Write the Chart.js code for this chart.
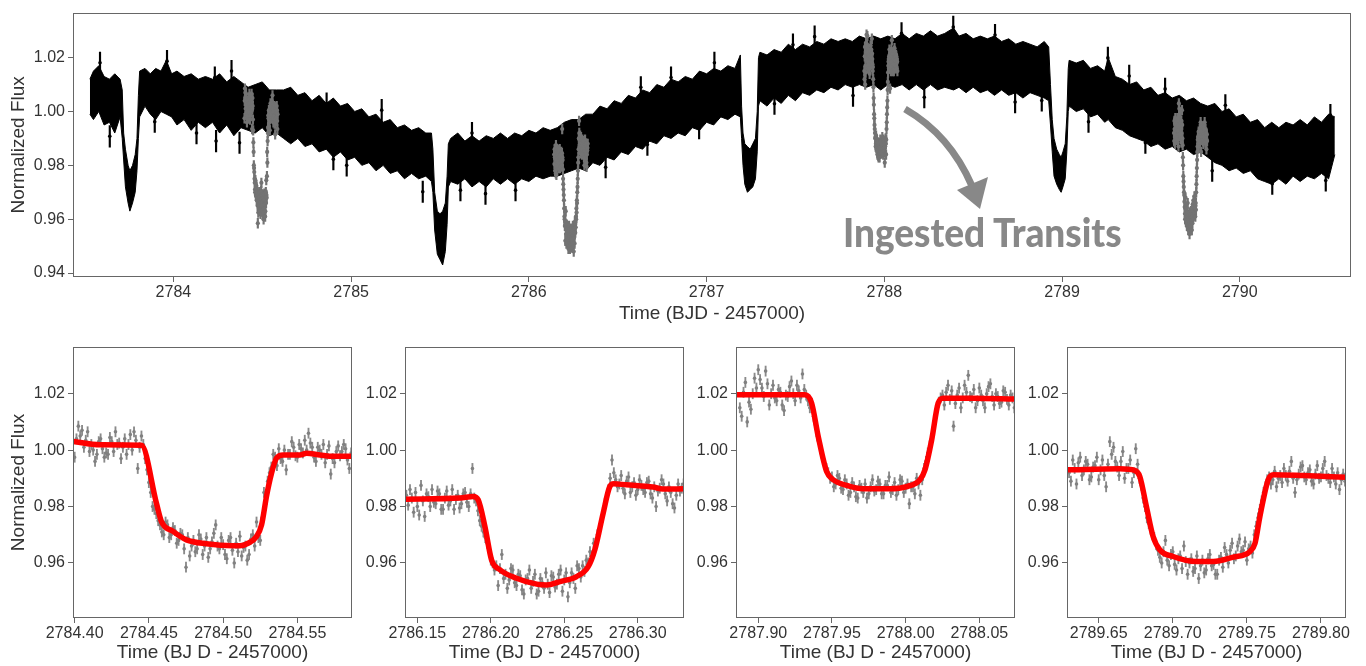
<!DOCTYPE html>
<html>
<head>
<meta charset="utf-8">
<script src="https://cdn.jsdelivr.net/npm/chart.js@4.4.1/dist/chart.umd.min.js"></script>
<style>
  html, body { margin: 0; padding: 0; background: #fff; }
  #stage { position: relative; width: 1366px; height: 666px; overflow: hidden; }
  canvas { position: absolute; }
  #arrow { position: absolute; left: 0; top: 0; }
  #label { position: absolute; left: 843px; top: 213px; font: 900 39px Lato, sans-serif; color: #888;
           line-height: 1; white-space: nowrap; transform-origin: left top; }
</style>
</head>
<body>
<div id="stage">
  <canvas id="top" width="1366" height="330" style="left:0;top:0"></canvas>
  <canvas id="p1" width="372" height="336" style="left:0;top:330px"></canvas>
  <canvas id="p2" width="359" height="336" style="left:345px;top:330px"></canvas>
  <canvas id="p3" width="359" height="336" style="left:676px;top:330px"></canvas>
  <canvas id="p4" width="359" height="336" style="left:1007px;top:330px"></canvas>
  <svg id="arrow" width="1366" height="330">
    <path d="M 905 109 Q 950 135 972 186" stroke="#888" stroke-width="7" fill="none"/>
    <polygon points="957,190 988,177 980,209" fill="#888"/>
  </svg>
  <div id="label">Ingested Transits</div>
</div>
<script>
// ---- full light curve: upper / lower edge of the black band ----
const bandTime = [
  2783.53, 2783.55, 2783.58, 2783.61, 2783.64, 2783.67, 2783.70, 2783.712,
  2783.72, 2783.73, 2783.745, 2783.755, 2783.77, 2783.785, 2783.795, 2783.803,
  2783.81, 2783.84, 2783.87, 2783.90, 2783.93, 2783.96, 2783.99, 2784.02, 2784.06, 2784.10, 2784.14,
  2784.18, 2784.22, 2784.26, 2784.30, 2784.34, 2784.38, 2784.42, 2784.46, 2784.50, 2784.54, 2784.58,
  2784.62, 2784.66, 2784.70, 2784.74, 2784.78, 2784.82, 2784.86, 2784.90, 2784.94, 2784.98, 2785.02,
  2785.06, 2785.10, 2785.14, 2785.18, 2785.22, 2785.26, 2785.30, 2785.34, 2785.38, 2785.42, 2785.452,
  2785.46, 2785.47, 2785.485, 2785.50, 2785.515, 2785.53, 2785.54, 2785.547,
  2785.56, 2785.60, 2785.64, 2785.68, 2785.72, 2785.76, 2785.80, 2785.84, 2785.88, 2785.92,
  2785.96, 2786.00, 2786.04, 2786.08, 2786.12, 2786.16, 2786.20, 2786.24, 2786.28, 2786.32,
  2786.36, 2786.40, 2786.44, 2786.48, 2786.52, 2786.56, 2786.60, 2786.64, 2786.68, 2786.72, 2786.76,
  2786.80, 2786.84, 2786.88, 2786.92, 2786.96, 2787.00, 2787.04, 2787.08, 2787.12, 2787.16, 2787.19,
  2787.197, 2787.205, 2787.215, 2787.23, 2787.245, 2787.26, 2787.275, 2787.285, 2787.292,
  2787.30, 2787.34, 2787.38, 2787.42, 2787.46, 2787.50, 2787.54, 2787.58, 2787.62, 2787.66, 2787.70,
  2787.74, 2787.78, 2787.82, 2787.86, 2787.90, 2787.94, 2787.98, 2788.02, 2788.06, 2788.10, 2788.14,
  2788.18, 2788.22, 2788.26, 2788.30, 2788.34, 2788.39, 2788.42, 2788.46, 2788.50, 2788.54, 2788.58,
  2788.62, 2788.66, 2788.70, 2788.74, 2788.78, 2788.82, 2788.86, 2788.90, 2788.925,
  2788.935, 2788.945, 2788.955, 2788.97, 2788.985, 2788.995, 2789.005, 2789.018, 2789.027, 2789.035,
  2789.04, 2789.08, 2789.12, 2789.16, 2789.20, 2789.24, 2789.26, 2789.30, 2789.34, 2789.38,
  2789.42, 2789.46, 2789.50, 2789.54, 2789.58, 2789.62, 2789.66, 2789.70, 2789.74, 2789.78,
  2789.82, 2789.86, 2789.90, 2789.94, 2789.98, 2790.02, 2790.06, 2790.10, 2790.14, 2790.18,
  2790.22, 2790.26, 2790.30, 2790.34, 2790.38, 2790.42, 2790.46, 2790.50, 2790.535
];
const bandHigh = [
  1.012, 1.015, 1.017, 1.013, 1.012, 1.014, 1.012, 1.008,
  0.992, 0.986, 0.980, 0.978, 0.980, 0.984, 0.990, 1.006,
  1.015, 1.016, 1.014, 1.016, 1.015, 1.019, 1.014, 1.015, 1.013, 1.014, 1.012,
  1.013, 1.012, 1.014, 1.011, 1.013, 1.011, 1.009, 1.010, 1.011, 1.008, 1.008,
  1.008, 1.009, 1.006, 1.007, 1.004, 1.006, 1.003, 1.005, 1.002, 1.003, 1.000,
  1.001, 0.998, 0.999, 0.996, 0.997, 0.994, 0.995, 0.993, 0.994, 0.992, 0.992,
  0.986, 0.970, 0.963, 0.962, 0.963, 0.966, 0.976, 0.988,
  0.990, 0.992, 0.989, 0.991, 0.989, 0.991, 0.990, 0.992, 0.990, 0.992,
  0.991, 0.993, 0.992, 0.994, 0.993, 0.994, 0.996, 0.997, 0.997, 0.999,
  0.999, 1.002, 1.001, 1.004, 1.003, 1.006, 1.005, 1.008, 1.007, 1.010, 1.009,
  1.012, 1.011, 1.013, 1.012, 1.015, 1.014, 1.016, 1.015, 1.017, 1.016, 1.021,
  1.002, 0.992, 0.988, 0.987, 0.986, 0.988, 0.990, 1.000, 1.020,
  1.022, 1.021, 1.023, 1.022, 1.025, 1.023, 1.025, 1.024, 1.026, 1.025, 1.027,
  1.026, 1.027, 1.026, 1.028, 1.027, 1.028, 1.027, 1.028, 1.027, 1.029, 1.027,
  1.029, 1.028, 1.030, 1.028, 1.029, 1.031, 1.028, 1.029, 1.027, 1.028, 1.027,
  1.028, 1.026, 1.027, 1.025, 1.026, 1.025, 1.024, 1.026, 1.024,
  1.010, 0.997, 0.990, 0.986, 0.984, 0.983, 0.985, 0.988, 0.998, 1.016,
  1.019, 1.018, 1.019, 1.016, 1.017, 1.015, 1.020, 1.013, 1.012, 1.010,
  1.011, 1.008, 1.009, 1.006, 1.007, 1.005, 1.006, 1.004, 1.005, 1.003,
  1.002, 1.003, 1.000, 1.001, 0.998, 0.999, 0.996, 0.997, 0.994, 0.996,
  0.994, 0.996, 0.995, 0.997, 0.995, 0.998, 0.996, 0.999, 0.998
];
const bandLow = [
  0.999, 0.997, 1.000, 0.995, 0.996, 0.992, 0.998, 0.990,
  0.982, 0.972, 0.966, 0.963, 0.966, 0.970, 0.978, 0.990,
  0.998, 1.002, 0.999, 0.997, 1.000, 0.999, 0.998, 0.995, 0.997, 0.993, 0.996,
  0.994, 0.996, 0.992, 0.995, 0.991, 0.994, 0.993, 0.992, 0.994, 0.991, 0.992,
  0.990, 0.988, 0.990, 0.987, 0.988, 0.985, 0.986, 0.983, 0.985, 0.982, 0.983,
  0.980, 0.981, 0.978, 0.980, 0.977, 0.978, 0.975, 0.977, 0.975, 0.976, 0.974,
  0.970, 0.956, 0.947, 0.945, 0.943, 0.948, 0.958, 0.972,
  0.974, 0.973, 0.975, 0.972, 0.974, 0.972, 0.975, 0.973, 0.975, 0.973,
  0.975, 0.974, 0.976, 0.975, 0.976, 0.976, 0.977, 0.978, 0.979, 0.978,
  0.981, 0.980, 0.983, 0.982, 0.985, 0.984, 0.987, 0.986, 0.989, 0.988, 0.991,
  0.990, 0.992, 0.991, 0.994, 0.993, 0.996, 0.995, 0.998, 0.997, 0.999, 0.998,
  0.990, 0.980, 0.973, 0.970, 0.971, 0.972, 0.975, 0.985, 1.002,
  1.004, 1.002, 1.005, 1.003, 1.006, 1.004, 1.007, 1.006, 1.008, 1.007, 1.009,
  1.008, 1.010, 1.009, 1.010, 1.009, 1.010, 1.008, 1.010, 1.009, 1.010, 1.008,
  1.010, 1.008, 1.010, 1.008, 1.009, 1.008, 1.009, 1.007, 1.009, 1.007, 1.008,
  1.006, 1.008, 1.006, 1.007, 1.005, 1.007, 1.006, 1.005, 1.004,
  0.995, 0.985, 0.976, 0.973, 0.971, 0.970, 0.972, 0.975, 0.985, 1.000,
  1.002, 1.000, 1.001, 0.998, 0.999, 0.996, 0.997, 0.994, 0.993, 0.991,
  0.990, 0.989, 0.987, 0.988, 0.986, 0.987, 0.985, 0.986, 0.984, 0.985,
  0.983, 0.981, 0.980, 0.978, 0.979, 0.977, 0.978, 0.975, 0.974, 0.973,
  0.975, 0.973, 0.976, 0.974, 0.976, 0.975, 0.977, 0.975, 0.984
];
// single points that stick out of the band
const spikeTime = [
  2783.587, 2783.642, 2783.895, 2783.964, 2784.130, 2784.233, 2784.240, 2784.327, 2784.372, 2784.862,
  2784.900, 2784.975, 2785.172, 2785.403, 2785.615, 2785.680, 2785.756, 2785.925, 2786.432, 2786.630,
  2786.667, 2786.800, 2786.958, 2787.044, 2787.382, 2787.486, 2787.608, 2787.824, 2788.097, 2788.225,
  2788.388, 2788.623, 2788.736, 2788.886, 2789.149, 2789.258, 2789.378, 2789.469, 2789.580, 2789.845,
  2789.919, 2790.183, 2790.484, 2790.510
];
const spikeFlux = [
  1.0181, 0.9908, 0.9962, 1.0187, 0.9920, 1.0126, 0.9890, 1.0150, 0.9884, 1.0029,
  0.9823, 0.9800, 1.0005, 0.9702, 0.9708, 0.9920, 0.9695, 0.9708, 0.9793, 1.0090,
  0.9877, 1.0126, 0.9938, 1.0181, 1.0029, 1.0248, 1.0278, 1.0059, 1.0290, 1.0053,
  1.0314, 1.0284, 1.0035, 1.0041, 0.9962, 1.0199, 1.0132, 0.9884, 1.0084, 0.9780,
  1.0023, 0.9732, 0.9744, 0.9987
];
const spikeErr = 0.004;

// ---- ingested transits (grey points), one block per zoom panel ----
const p1Time = [
  2784.40000, 2784.40125, 2784.40250, 2784.40375, 2784.40500, 2784.40625, 2784.40750, 2784.40875, 2784.41000, 2784.41125,
  2784.41250, 2784.41375, 2784.41500, 2784.41625, 2784.41750, 2784.41875, 2784.42000, 2784.42125, 2784.42250, 2784.42375,
  2784.42500, 2784.42625, 2784.42750, 2784.42875, 2784.43000, 2784.43125, 2784.43250, 2784.43375, 2784.43500, 2784.43625,
  2784.43750, 2784.43875, 2784.44000, 2784.44125, 2784.44250, 2784.44375, 2784.44500, 2784.44625, 2784.44750, 2784.44875,
  2784.45000, 2784.45125, 2784.45250, 2784.45375, 2784.45500, 2784.45625, 2784.45750, 2784.45875, 2784.46000, 2784.46125,
  2784.46250, 2784.46375, 2784.46500, 2784.46625, 2784.46750, 2784.46875, 2784.47000, 2784.47125, 2784.47250, 2784.47375,
  2784.47500, 2784.47625, 2784.47750, 2784.47875, 2784.48000, 2784.48125, 2784.48250, 2784.48375, 2784.48500, 2784.48625,
  2784.48750, 2784.48875, 2784.49000, 2784.49125, 2784.49250, 2784.49375, 2784.49500, 2784.49625, 2784.49750, 2784.49875,
  2784.50000, 2784.50125, 2784.50250, 2784.50375, 2784.50500, 2784.50625, 2784.50750, 2784.50875, 2784.51000, 2784.51125,
  2784.51250, 2784.51375, 2784.51500, 2784.51625, 2784.51750, 2784.51875, 2784.52000, 2784.52125, 2784.52250, 2784.52375,
  2784.52500, 2784.52625, 2784.52750, 2784.52875, 2784.53000, 2784.53125, 2784.53250, 2784.53375, 2784.53500, 2784.53625,
  2784.53750, 2784.53875, 2784.54000, 2784.54125, 2784.54250, 2784.54375, 2784.54500, 2784.54625, 2784.54750, 2784.54875,
  2784.55000, 2784.55125, 2784.55250, 2784.55375, 2784.55500, 2784.55625, 2784.55750, 2784.55875, 2784.56000, 2784.56125,
  2784.56250, 2784.56375, 2784.56500, 2784.56625, 2784.56750, 2784.56875, 2784.57000, 2784.57125, 2784.57250, 2784.57375,
  2784.57500, 2784.57625, 2784.57750, 2784.57875, 2784.58000, 2784.58125, 2784.58250, 2784.58375, 2784.58500, 2784.58625
];
const p1Flux = [
  0.9975, 1.0040, 1.0085, 1.0050, 1.0070, 1.0010, 1.0035, 1.0065, 0.9995, 1.0020,
  1.0000, 0.9960, 0.9985, 1.0030, 1.0040, 1.0005, 0.9975, 0.9990, 0.9985, 1.0045,
  1.0030, 0.9995, 1.0065, 1.0020, 1.0025, 0.9970, 1.0010, 1.0040, 0.9985, 1.0020,
  1.0055, 1.0000, 1.0065, 1.0035, 0.9935, 1.0010, 1.0050, 1.0020, 0.9970, 0.9930,
  0.9885, 0.9850, 0.9800, 0.9790, 0.9775, 0.9750, 0.9735, 0.9710, 0.9700, 0.9745,
  0.9735, 0.9690, 0.9700, 0.9725, 0.9715, 0.9670, 0.9680, 0.9705, 0.9700, 0.9650,
  0.9585, 0.9690, 0.9625, 0.9660, 0.9680, 0.9640, 0.9650, 0.9700, 0.9685, 0.9630,
  0.9660, 0.9690, 0.9620, 0.9650, 0.9675, 0.9705, 0.9735, 0.9660, 0.9650, 0.9690,
  0.9665, 0.9630, 0.9615, 0.9680, 0.9690, 0.9645, 0.9600, 0.9670, 0.9640, 0.9695,
  0.9625, 0.9655, 0.9660, 0.9610, 0.9630, 0.9685, 0.9700, 0.9660, 0.9745, 0.9690,
  0.9680, 0.9760, 0.9850, 0.9810, 0.9890, 0.9920, 0.9940, 0.9985, 0.9975, 0.9945,
  1.0005, 0.9970, 0.9960, 1.0000, 0.9930, 0.9985, 0.9985, 1.0030, 1.0010, 0.9980,
  0.9975, 1.0020, 1.0005, 0.9990, 1.0035, 1.0000, 1.0060, 1.0025, 1.0010, 0.9975,
  0.9960, 1.0010, 1.0000, 0.9985, 1.0020, 0.9955, 0.9985, 1.0015, 0.9915, 0.9970,
  0.9955, 0.9995, 1.0015, 0.9980, 0.9995, 1.0020, 1.0005, 0.9965, 0.9935, 0.9990
];
const p2Time = [
  2786.14250, 2786.14375, 2786.14500, 2786.14625, 2786.14750, 2786.14875, 2786.15000, 2786.15125, 2786.15250, 2786.15375,
  2786.15500, 2786.15625, 2786.15750, 2786.15875, 2786.16000, 2786.16125, 2786.16250, 2786.16375, 2786.16500, 2786.16625,
  2786.16750, 2786.16875, 2786.17000, 2786.17125, 2786.17250, 2786.17375, 2786.17500, 2786.17625, 2786.17750, 2786.17875,
  2786.18000, 2786.18125, 2786.18250, 2786.18375, 2786.18500, 2786.18625, 2786.18750, 2786.18875, 2786.19000, 2786.19125,
  2786.19250, 2786.19375, 2786.19500, 2786.19625, 2786.19750, 2786.19875, 2786.20000, 2786.20125, 2786.20250, 2786.20375,
  2786.20500, 2786.20625, 2786.20750, 2786.20875, 2786.21000, 2786.21125, 2786.21250, 2786.21375, 2786.21500, 2786.21625,
  2786.21750, 2786.21875, 2786.22000, 2786.22125, 2786.22250, 2786.22375, 2786.22500, 2786.22625, 2786.22750, 2786.22875,
  2786.23000, 2786.23125, 2786.23250, 2786.23375, 2786.23500, 2786.23625, 2786.23750, 2786.23875, 2786.24000, 2786.24125,
  2786.24250, 2786.24375, 2786.24500, 2786.24625, 2786.24750, 2786.24875, 2786.25000, 2786.25125, 2786.25250, 2786.25375,
  2786.25500, 2786.25625, 2786.25750, 2786.25875, 2786.26000, 2786.26125, 2786.26250, 2786.26375, 2786.26500, 2786.26625,
  2786.26750, 2786.26875, 2786.27000, 2786.27125, 2786.27250, 2786.27375, 2786.27500, 2786.27625, 2786.27750, 2786.27875,
  2786.28000, 2786.28125, 2786.28250, 2786.28375, 2786.28500, 2786.28625, 2786.28750, 2786.28875, 2786.29000, 2786.29125,
  2786.29250, 2786.29375, 2786.29500, 2786.29625, 2786.29750, 2786.29875, 2786.30000, 2786.30125, 2786.30250, 2786.30375,
  2786.30500, 2786.30625, 2786.30750, 2786.30875, 2786.31000, 2786.31125, 2786.31250, 2786.31375, 2786.31500, 2786.31625,
  2786.31750, 2786.31875, 2786.32000, 2786.32125, 2786.32250, 2786.32375, 2786.32500, 2786.32625, 2786.32750, 2786.32875,
  2786.33000, 2786.33125
];
const p2Flux = [
  0.9840, 0.9805, 0.9860, 0.9830, 0.9780, 0.9850, 0.9800, 0.9770, 0.9875, 0.9820,
  0.9765, 0.9845, 0.9835, 0.9800, 0.9860, 0.9815, 0.9810, 0.9855, 0.9845, 0.9790,
  0.9790, 0.9830, 0.9855, 0.9805, 0.9820, 0.9860, 0.9790, 0.9825, 0.9840, 0.9795,
  0.9810, 0.9845, 0.9850, 0.9815, 0.9800, 0.9845, 0.9935, 0.9830, 0.9820, 0.9785,
  0.9750, 0.9730, 0.9710, 0.9690, 0.9670, 0.9640, 0.9610, 0.9600, 0.9575, 0.9590,
  0.9520, 0.9580, 0.9630, 0.9545, 0.9560, 0.9510, 0.9540, 0.9580, 0.9575, 0.9530,
  0.9520, 0.9560, 0.9555, 0.9505, 0.9490, 0.9540, 0.9545, 0.9575, 0.9510, 0.9535,
  0.9560, 0.9490, 0.9500, 0.9545, 0.9530, 0.9510, 0.9565, 0.9525, 0.9495, 0.9555,
  0.9550, 0.9515, 0.9525, 0.9560, 0.9575, 0.9500, 0.9540, 0.9565, 0.9480, 0.9530,
  0.9565, 0.9545, 0.9510, 0.9590, 0.9580, 0.9550, 0.9590, 0.9570, 0.9610, 0.9600,
  0.9640, 0.9625, 0.9670, 0.9660, 0.9700, 0.9720, 0.9750, 0.9780, 0.9810, 0.9830,
  0.9860, 0.9900, 0.9965, 0.9920, 0.9895, 0.9870, 0.9880, 0.9910, 0.9865, 0.9845,
  0.9890, 0.9905, 0.9850, 0.9870, 0.9885, 0.9840, 0.9860, 0.9895, 0.9875, 0.9860,
  0.9850, 0.9885, 0.9890, 0.9845, 0.9830, 0.9870, 0.9800, 0.9855, 0.9865, 0.9895,
  0.9880, 0.9845, 0.9820, 0.9870, 0.9850, 0.9810, 0.9795, 0.9840, 0.9880, 0.9855,
  0.9865, 0.9880
];
const p3Time = [
  2787.88750, 2787.88875, 2787.89000, 2787.89125, 2787.89250, 2787.89375, 2787.89500, 2787.89625, 2787.89750, 2787.89875,
  2787.90000, 2787.90125, 2787.90250, 2787.90375, 2787.90500, 2787.90625, 2787.90750, 2787.90875, 2787.91000, 2787.91125,
  2787.91250, 2787.91375, 2787.91500, 2787.91625, 2787.91750, 2787.91875, 2787.92000, 2787.92125, 2787.92250, 2787.92375,
  2787.92500, 2787.92625, 2787.92750, 2787.92875, 2787.93000, 2787.93125, 2787.93250, 2787.93375, 2787.93500, 2787.93625,
  2787.93750, 2787.93875, 2787.94000, 2787.94125, 2787.94250, 2787.94375, 2787.94500, 2787.94625, 2787.94750, 2787.94875,
  2787.95000, 2787.95125, 2787.95250, 2787.95375, 2787.95500, 2787.95625, 2787.95750, 2787.95875, 2787.96000, 2787.96125,
  2787.96250, 2787.96375, 2787.96500, 2787.96625, 2787.96750, 2787.96875, 2787.97000, 2787.97125, 2787.97250, 2787.97375,
  2787.97500, 2787.97625, 2787.97750, 2787.97875, 2787.98000, 2787.98125, 2787.98250, 2787.98375, 2787.98500, 2787.98625,
  2787.98750, 2787.98875, 2787.99000, 2787.99125, 2787.99250, 2787.99375, 2787.99500, 2787.99625, 2787.99750, 2787.99875,
  2788.00000, 2788.00125, 2788.00250, 2788.00375, 2788.00500, 2788.00625, 2788.00750, 2788.00875, 2788.01000, 2788.01125,
  2788.01250, 2788.01375, 2788.01500, 2788.01625, 2788.01750, 2788.01875, 2788.02000, 2788.02125, 2788.02250, 2788.02375,
  2788.02500, 2788.02625, 2788.02750, 2788.02875, 2788.03000, 2788.03125, 2788.03250, 2788.03375, 2788.03500, 2788.03625,
  2788.03750, 2788.03875, 2788.04000, 2788.04125, 2788.04250, 2788.04375, 2788.04500, 2788.04625, 2788.04750, 2788.04875,
  2788.05000, 2788.05125, 2788.05250, 2788.05375, 2788.05500, 2788.05625, 2788.05750, 2788.05875, 2788.06000, 2788.06125,
  2788.06250, 2788.06375, 2788.06500, 2788.06625, 2788.06750, 2788.06875, 2788.07000, 2788.07125, 2788.07250, 2788.07375
];
const p3Flux = [
  1.0150, 1.0120, 1.0205, 1.0240, 1.0100, 1.0170, 1.0145, 1.0200, 1.0255, 1.0220,
  1.0285, 1.0250, 1.0220, 1.0190, 1.0280, 1.0235, 1.0160, 1.0200, 1.0230, 1.0185,
  1.0175, 1.0215, 1.0205, 1.0160, 1.0140, 1.0195, 1.0190, 1.0225, 1.0245, 1.0200,
  1.0175, 1.0230, 1.0210, 1.0185, 1.0270, 1.0215, 1.0195, 1.0175, 1.0150, 1.0165,
  1.0120, 1.0090, 1.0050, 1.0025, 0.9990, 0.9975, 0.9950, 0.9935, 0.9920, 0.9900,
  0.9905, 0.9870, 0.9880, 0.9910, 0.9900, 0.9865, 0.9860, 0.9895, 0.9880, 0.9840,
  0.9850, 0.9885, 0.9870, 0.9835, 0.9830, 0.9875, 0.9865, 0.9850, 0.9880, 0.9830,
  0.9845, 0.9870, 0.9895, 0.9855, 0.9860, 0.9890, 0.9880, 0.9845, 0.9845, 0.9875,
  0.9875, 0.9905, 0.9850, 0.9860, 0.9885, 0.9840, 0.9860, 0.9895, 0.9890, 0.9850,
  0.9865, 0.9880, 0.9810, 0.9870, 0.9870, 0.9845, 0.9900, 0.9880, 0.9840, 0.9895,
  0.9935, 0.9960, 0.9990, 1.0015, 1.0040, 1.0080, 1.0110, 1.0145, 1.0170, 1.0185,
  1.0195, 1.0160, 1.0205, 1.0230, 1.0180, 1.0210, 1.0085, 1.0165, 1.0195, 1.0220,
  1.0150, 1.0185, 1.0230, 1.0205, 1.0265, 1.0190, 1.0185, 1.0215, 1.0150, 1.0175,
  1.0220, 1.0195, 1.0175, 1.0150, 1.0200, 1.0225, 1.0235, 1.0190, 1.0160, 1.0200,
  1.0190, 1.0165, 1.0170, 1.0210, 1.0205, 1.0180, 1.0160, 1.0195, 1.0185, 1.0150
];
const p4Time = [
  2789.63000, 2789.63125, 2789.63250, 2789.63375, 2789.63500, 2789.63625, 2789.63750, 2789.63875, 2789.64000, 2789.64125,
  2789.64250, 2789.64375, 2789.64500, 2789.64625, 2789.64750, 2789.64875, 2789.65000, 2789.65125, 2789.65250, 2789.65375,
  2789.65500, 2789.65625, 2789.65750, 2789.65875, 2789.66000, 2789.66125, 2789.66250, 2789.66375, 2789.66500, 2789.66625,
  2789.66750, 2789.66875, 2789.67000, 2789.67125, 2789.67250, 2789.67375, 2789.67500, 2789.67625, 2789.67750, 2789.67875,
  2789.68000, 2789.68125, 2789.68250, 2789.68375, 2789.68500, 2789.68625, 2789.68750, 2789.68875, 2789.69000, 2789.69125,
  2789.69250, 2789.69375, 2789.69500, 2789.69625, 2789.69750, 2789.69875, 2789.70000, 2789.70125, 2789.70250, 2789.70375,
  2789.70500, 2789.70625, 2789.70750, 2789.70875, 2789.71000, 2789.71125, 2789.71250, 2789.71375, 2789.71500, 2789.71625,
  2789.71750, 2789.71875, 2789.72000, 2789.72125, 2789.72250, 2789.72375, 2789.72500, 2789.72625, 2789.72750, 2789.72875,
  2789.73000, 2789.73125, 2789.73250, 2789.73375, 2789.73500, 2789.73625, 2789.73750, 2789.73875, 2789.74000, 2789.74125,
  2789.74250, 2789.74375, 2789.74500, 2789.74625, 2789.74750, 2789.74875, 2789.75000, 2789.75125, 2789.75250, 2789.75375,
  2789.75500, 2789.75625, 2789.75750, 2789.75875, 2789.76000, 2789.76125, 2789.76250, 2789.76375, 2789.76500, 2789.76625,
  2789.76750, 2789.76875, 2789.77000, 2789.77125, 2789.77250, 2789.77375, 2789.77500, 2789.77625, 2789.77750, 2789.77875,
  2789.78000, 2789.78125, 2789.78250, 2789.78375, 2789.78500, 2789.78625, 2789.78750, 2789.78875, 2789.79000, 2789.79125,
  2789.79250, 2789.79375, 2789.79500, 2789.79625, 2789.79750, 2789.79875, 2789.80000, 2789.80125, 2789.80250, 2789.80375,
  2789.80500, 2789.80625, 2789.80750, 2789.80875, 2789.81000, 2789.81125, 2789.81250, 2789.81375, 2789.81500, 2789.81625
];
const p4Flux = [
  0.9920, 0.9890, 0.9965, 0.9935, 0.9880, 0.9955, 0.9975, 0.9910, 0.9930, 0.9960,
  0.9950, 0.9895, 0.9905, 0.9940, 0.9945, 0.9975, 0.9895, 0.9930, 0.9965, 0.9910,
  0.9870, 0.9950, 1.0030, 0.9985, 1.0010, 0.9960, 0.9940, 0.9910, 0.9960, 0.9995,
  0.9900, 0.9935, 0.9935, 0.9965, 0.9885, 0.9920, 1.0005, 0.9950, 0.9900, 0.9875,
  0.9830, 0.9800, 0.9760, 0.9740, 0.9720, 0.9700, 0.9690, 0.9665, 0.9645, 0.9620,
  0.9600, 0.9640, 0.9680, 0.9610, 0.9590, 0.9630, 0.9640, 0.9595, 0.9575, 0.9615,
  0.9625, 0.9580, 0.9660, 0.9605, 0.9560, 0.9600, 0.9615, 0.9570, 0.9580, 0.9625,
  0.9545, 0.9590, 0.9610, 0.9565, 0.9575, 0.9615, 0.9630, 0.9590, 0.9595, 0.9560,
  0.9560, 0.9610, 0.9620, 0.9585, 0.9655, 0.9630, 0.9600, 0.9645, 0.9670, 0.9615,
  0.9625, 0.9660, 0.9685, 0.9640, 0.9645, 0.9675, 0.9610, 0.9650, 0.9660, 0.9635,
  0.9700, 0.9730, 0.9760, 0.9790, 0.9820, 0.9850, 0.9870, 0.9895, 0.9905, 0.9880,
  0.9895, 0.9925, 0.9870, 0.9900, 0.9910, 0.9885, 0.9935, 0.9910, 0.9890, 0.9925,
  0.9960, 0.9900, 0.9850, 0.9895, 0.9915, 0.9940, 0.9945, 0.9905, 0.9895, 0.9920,
  0.9930, 0.9890, 0.9880, 0.9915, 0.9945, 0.9900, 0.9905, 0.9935, 0.9960, 0.9910,
  0.9900, 0.9885, 0.9935, 0.9905, 0.9880, 0.9920, 0.9860, 0.9895, 0.9915, 0.9890
];
const fluxErr = [0.0018, 0.0018, 0.0018, 0.0018];

// ---- fitted transit model (red curves) ----
const m1Time = [2784.3989, 2784.417, 2784.445, 2784.4551, 2784.4585, 2784.4663, 2784.4753, 2784.4888, 2784.5067, 2784.5112, 2784.5168,
  2784.5225, 2784.5259, 2784.5292, 2784.5326, 2784.536, 2784.5404, 2784.5517, 2784.5562, 2784.5652, 2784.5741, 2784.5868];
const m1Flux = [1.0031, 1.0019, 1.0017, 0.9812, 0.9747, 0.9712, 0.9682, 0.9668, 0.9661, 0.9661, 0.9670,
  0.9694, 0.9735, 0.9836, 0.9918, 0.9972, 0.9983, 0.9983, 0.9989, 0.9983, 0.9978, 0.9978];
const m2Time = [2786.1416, 2786.179, 2786.188, 2786.1914, 2786.196, 2786.2005, 2786.2062, 2786.2175, 2786.2312, 2786.238, 2786.247,
  2786.2584, 2786.2663, 2786.2708, 2786.2765, 2786.281, 2786.2837, 2786.2923, 2786.3104, 2786.3172, 2786.3315];
const m2Flux = [0.9826, 0.9830, 0.9836, 0.9824, 0.9729, 0.9611, 0.9576, 0.9546, 0.9525, 0.9522, 0.9534,
  0.9552, 0.9587, 0.9647, 0.9777, 0.9871, 0.9881, 0.9877, 0.9869, 0.9862, 0.9863];
const m3Time = [2787.8849, 2787.9317, 2787.9362, 2787.9407, 2787.9464, 2787.9509, 2787.96, 2787.9713, 2787.9894,
  2788.0007, 2788.0097, 2788.0131, 2788.0177, 2788.0221, 2788.0255, 2788.0459, 2788.0742];
const m3Flux = [1.0196, 1.0196, 1.0167, 1.0048, 0.9924, 0.9895, 0.9875, 0.9863, 0.9863,
  0.9871, 0.9895, 0.9930, 1.0037, 1.0167, 1.0184, 1.0184, 1.0181];
const m4Time = [2789.6286, 2789.6642, 2789.6743, 2789.6777, 2789.6822, 2789.6867, 2789.6912, 2789.7002, 2789.716,
  2789.7273, 2789.7408, 2789.7521, 2789.7555, 2789.7588, 2789.7644, 2789.7678, 2789.7881, 2789.8169];
const m4Flux = [0.9930, 0.9934, 0.9928, 0.9907, 0.9800, 0.9694, 0.9647, 0.9623, 0.9605,
  0.9605, 0.9621, 0.9641, 0.9670, 0.9765, 0.9895, 0.9913, 0.9910, 0.9904];

// ---- axes ----
const topXTicks = [2784, 2785, 2786, 2787, 2788, 2789, 2790];
const topYTicks = [0.94, 0.96, 0.98, 1.00, 1.02];
const zoomYTicks = [0.96, 0.98, 1.00, 1.02];
const zoomXTicks = [
  [2784.40, 2784.45, 2784.50, 2784.55],
  [2786.15, 2786.20, 2786.25, 2786.30],
  [2787.90, 2787.95, 2788.00, 2788.05],
  [2789.65, 2789.70, 2789.75, 2789.80]
];
const zoomXMin = [2784.3989, 2786.1416, 2787.8849, 2789.6286];
const zoomXMax = [2784.5868, 2786.3315, 2788.0742, 2789.8169];

const FONT = "'Liberation Sans', Arial, sans-serif";
const INK = '#333';
const FRAME = '#666';

const pairs = (xs, ys) => xs.map((x, i) => ({ x, y: ys[i] }));
const bars = (xs, ys, e) => xs.map((x, i) => ({ x, y: [ys[i] - e, ys[i] + e] }));

const frame = {
  id: 'frame',
  afterDraw(chart) {
    const { ctx, chartArea: a } = chart;
    ctx.save();
    ctx.strokeStyle = FRAME;
    ctx.lineWidth = 1;
    ctx.strokeRect(Math.round(a.left) + 0.5, Math.round(a.top) + 0.5,
                   Math.round(a.width) - 1, Math.round(a.height) - 1);
    ctx.restore();
  }
};

function xAxis(min, max, ticks, fmt, title, height, titlePad) {
  return {
    type: 'linear', min, max, offset: false,
    afterBuildTicks: s => { s.ticks = ticks.map(v => ({ value: v })); },
    afterFit: s => { s.height = height; },
    grid: { display: true, offset: false, drawOnChartArea: false, drawTicks: true, tickLength: 5, color: FRAME },
    border: { display: false },
    ticks: { autoSkip: false, maxRotation: 0, padding: 1, color: INK, font: { family: FONT, size: 16 }, callback: fmt },
    title: { display: true, text: title, color: INK, font: { family: FONT, size: 19 }, padding: { top: 0, bottom: titlePad } }
  };
}

function yAxis(min, max, ticks, width, title) {
  return {
    type: 'linear', min, max,
    afterBuildTicks: s => { s.ticks = ticks.map(v => ({ value: v })); },
    afterFit: s => { s.width = width; },
    grid: { display: true, offset: false, drawOnChartArea: false, drawTicks: true, tickLength: 5, color: FRAME },
    border: { display: false },
    ticks: { padding: 3, color: INK, font: { family: FONT, size: 16 }, callback: v => v.toFixed(2) },
    title: { display: !!title, text: title || '', color: INK, font: { family: FONT, size: 19 }, padding: { top: 7, bottom: 0 } }
  };
}

const baseOptions = {
  responsive: false,
  animation: false,
  devicePixelRatio: 1,
  plugins: { legend: { display: false }, tooltip: { enabled: false } }
};

// ---- top panel ----
const allTime = [...p1Time, ...p2Time, ...p3Time, ...p4Time];
const allFlux = [...p1Flux, ...p2Flux, ...p3Flux, ...p4Flux];
const GREY_TOP = '#737373';

new Chart(document.getElementById('top'), {
  type: 'scatter',
  data: {
    datasets: [
      { type: 'line', data: pairs(bandTime, bandHigh), borderColor: '#000', borderWidth: 1,
        pointRadius: 0, fill: false, order: 5 },
      { type: 'line', data: pairs(bandTime, bandLow), borderColor: '#000', borderWidth: 1,
        pointRadius: 0, fill: '-1', backgroundColor: '#000', order: 5 },
      { type: 'bar', data: bars(spikeTime, spikeFlux, spikeErr), backgroundColor: '#000',
        barThickness: 1.5, grouped: false, order: 4 },
      { type: 'scatter', data: pairs(spikeTime, spikeFlux), backgroundColor: '#000',
        pointRadius: 1.8, borderWidth: 0, order: 3 },
      { type: 'bar', data: bars(allTime, allFlux, fluxErr[0]), backgroundColor: GREY_TOP,
        barThickness: 1.5, grouped: false, order: 2 },
      { type: 'scatter', data: pairs(allTime, allFlux), backgroundColor: GREY_TOP,
        pointRadius: 2.1, borderWidth: 0, order: 1 }
    ]
  },
  options: {
    ...baseOptions,
    layout: { padding: { left: 0, top: 7, right: 15, bottom: 1 } },
    scales: {
      x: xAxis(2783.435, 2790.626, topXTicks, v => String(v), 'Time (BJD - 2457000)', 52, 4),
      y: yAxis(0.93854, 1.03673, topYTicks, 73, 'Normalized Flux')
    }
  },
  plugins: [frame]
});

// ---- zoomed transits ----
const panels = [
  { id: 'p1', t: p1Time, f: p1Flux, mt: m1Time, mf: m1Flux, yw: 73, title: 'Normalized Flux' },
  { id: 'p2', t: p2Time, f: p2Flux, mt: m2Time, mf: m2Flux, yw: 60 },
  { id: 'p3', t: p3Time, f: p3Flux, mt: m3Time, mf: m3Flux, yw: 60 },
  { id: 'p4', t: p4Time, f: p4Flux, mt: m4Time, mf: m4Flux, yw: 60 }
];

panels.forEach((p, k) => {
  new Chart(document.getElementById(p.id), {
    type: 'scatter',
    data: {
      datasets: [
        { type: 'line', data: pairs(p.mt, p.mf), borderColor: '#ff0000', borderWidth: 5.5,
          borderCapStyle: 'round', borderJoinStyle: 'round', pointRadius: 0,
          cubicInterpolationMode: 'monotone', clip: 0, order: 0 },
        { type: 'scatter', data: pairs(p.t, p.f), backgroundColor: '#808080',
          pointRadius: 1.8, borderWidth: 0, clip: 0, order: 1 },
        { type: 'bar', data: bars(p.t, p.f, fluxErr[k]), backgroundColor: '#8a8a8a',
          barThickness: 1.2, grouped: false, clip: 0, order: 2 }
      ]
    },
    options: {
      ...baseOptions,
      layout: { padding: { left: 0, top: 17, right: 20, bottom: 0 } },
      scales: {
        x: xAxis(zoomXMin[k], zoomXMax[k], zoomXTicks[k], v => v.toFixed(2), 'Time (BJ D - 2457000)', 48, 2),
        y: yAxis(0.9405, 1.03655, zoomYTicks, p.yw, p.title)
      }
    },
    plugins: [frame]
  });
});

// squeeze the annotation text to the width it has in the figure
const label = document.getElementById('label');
const fit = () => {
  const w = label.offsetWidth;
  if (w > 0) label.style.transform = 'scaleX(' + (279 / w) + ')';
};
if (document.fonts && document.fonts.ready) document.fonts.ready.then(fit);
fit();
</script>
</body>
</html>
